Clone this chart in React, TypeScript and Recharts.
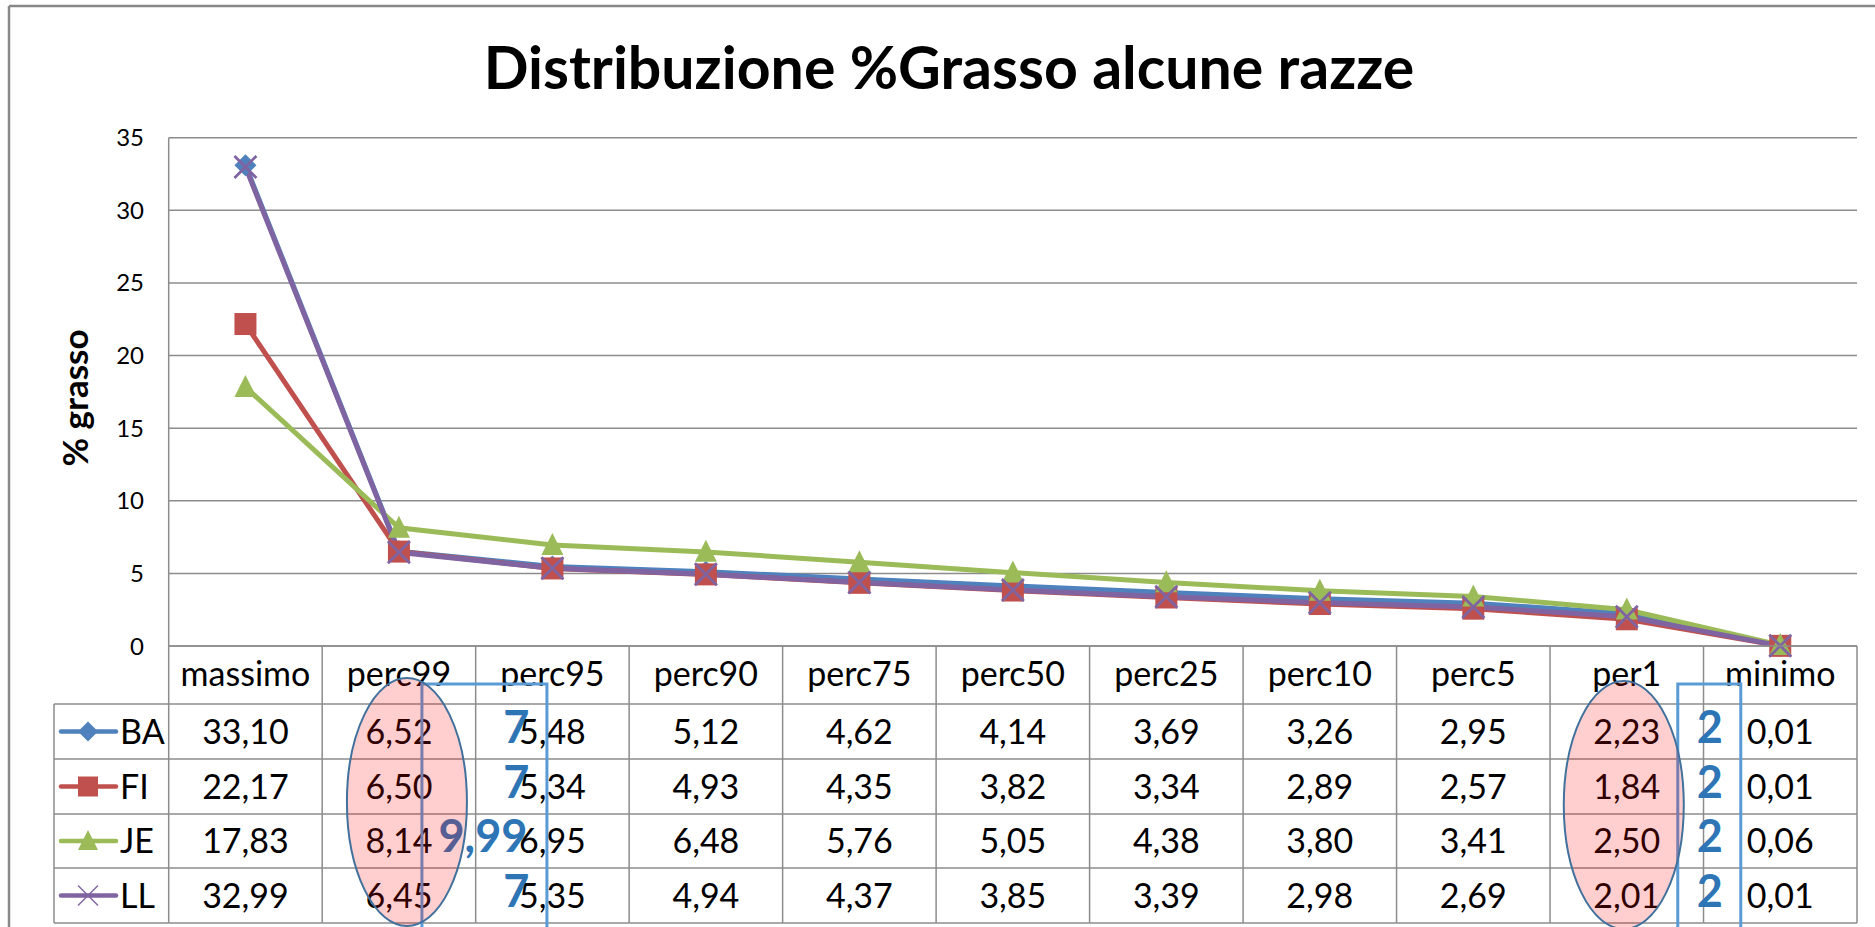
import { CartesianGrid, Line, LineChart, XAxis, YAxis } from "recharts";

const W = 1875;
const H = 927;
const FONT = "Lato, 'Open Sans', sans-serif";

const CATEGORIES = ["massimo", "perc99", "perc95", "perc90", "perc75", "perc50", "perc25", "perc10", "perc5", "per1", "minimo"];
const BA = [33.1, 6.52, 5.48, 5.12, 4.62, 4.14, 3.69, 3.26, 2.95, 2.23, 0.01];
const FI = [22.17, 6.5, 5.34, 4.93, 4.35, 3.82, 3.34, 2.89, 2.57, 1.84, 0.01];
const JE = [17.83, 8.14, 6.95, 6.48, 5.76, 5.05, 4.38, 3.8, 3.41, 2.5, 0.06];
const LL = [32.99, 6.45, 5.35, 4.94, 4.37, 3.85, 3.39, 2.98, 2.69, 2.01, 0.01];
const Y_TICKS = [0, 5, 10, 15, 20, 25, 30, 35];

// overlay notes drawn on the data table
const NOTE_99 = ["7", "7", "9,99", "7"];
const NOTE_1 = ["2", "2", "2", "2"];

const SERIES = [
  { key: "BA", values: BA, color: "#4F81BD", shape: "diamond" },
  { key: "FI", values: FI, color: "#C0504D", shape: "square" },
  { key: "JE", values: JE, color: "#9BBB59", shape: "triangle" },
  { key: "LL", values: LL, color: "#8064A2", shape: "cross" },
] as const;

const PLOT_L = 168.7;
const PLOT_R = 1857;
const PLOT_T = 137.7;
const PLOT_B = 646;
const BW = (PLOT_R - PLOT_L) / CATEGORIES.length;
const ROW_Y = [646, 704, 759, 814, 868, 923];
const GRID = "#8c8c8c";
const TABLE_FS = 34;

const data = CATEGORIES.map((c, i) => ({ cat: c, BA: BA[i], FI: FI[i], JE: JE[i], LL: LL[i] }));

const fmt = (v: number) => v.toFixed(2).replace(".", ",");
const colX = (i: number) => PLOT_L + BW * (i + 0.5);

function Marker({ shape, cx, cy, color, s, thin }: { shape: string; cx: number; cy: number; color: string; s: number; thin?: boolean }) {
  if (shape === "diamond")
    return <path d={`M${cx},${cy - s} L${cx + s},${cy} L${cx},${cy + s} L${cx - s},${cy} Z`} fill={color} />;
  if (shape === "square") return <rect x={cx - s} y={cy - s} width={s * 2} height={s * 2} fill={color} />;
  if (shape === "triangle")
    return <path d={`M${cx},${cy - s * 1.1} L${cx + s},${cy + s * 0.9} L${cx - s},${cy + s * 0.9} Z`} fill={color} />;
  return (
    <g stroke={color} strokeWidth={thin ? 1.5 : 2.8}>
      <line x1={cx - s} y1={cy - s} x2={cx + s} y2={cy + s} />
      <line x1={cx - s} y1={cy + s} x2={cx + s} y2={cy - s} />
    </g>
  );
}

function TableTick(props: any) {
  const { x, payload } = props;
  const i = CATEGORIES.indexOf(payload.value);
  const left = x - BW / 2;
  const right = x + BW / 2;
  const last = i === CATEGORIES.length - 1;
  return (
    <g fontFamily={FONT} fontSize={TABLE_FS} fill="#000">
      {ROW_Y.map((yy) => (
        <line key={yy} x1={left} x2={right} y1={yy} y2={yy} stroke={GRID} strokeWidth={1.5} />
      ))}
      <line x1={left} x2={left} y1={ROW_Y[0]} y2={ROW_Y[5]} stroke={GRID} strokeWidth={1.5} />
      {last && <line x1={right} x2={right} y1={ROW_Y[0]} y2={ROW_Y[5]} stroke={GRID} strokeWidth={1.5} />}
      <text x={x} y={686} textAnchor="middle">
        {payload.value}
      </text>
      {SERIES.map((s, r) => (
        <text key={s.key} x={x} y={(ROW_Y[r + 1] + ROW_Y[r + 2]) / 2 + 12} textAnchor="middle">
          {fmt(s.values[i])}
        </text>
      ))}
      {i === 0 && (
        <g>
          {ROW_Y.slice(1).map((yy) => (
            <line key={yy} x1={54} x2={left} y1={yy} y2={yy} stroke={GRID} strokeWidth={1.5} />
          ))}
          <line x1={54} x2={54} y1={ROW_Y[1]} y2={ROW_Y[5]} stroke={GRID} strokeWidth={1.5} />
          {SERIES.map((s, r) => {
            const cy = (ROW_Y[r + 1] + ROW_Y[r + 2]) / 2;
            return (
              <g key={s.key}>
                <line x1={61} x2={116} y1={cy} y2={cy} stroke={s.color} strokeWidth={4.5} strokeLinecap="round" />
                <Marker shape={s.shape} cx={88} cy={cy} color={s.color} s={10} thin />
                <text x={120} y={cy + 12}>
                  {s.key}
                </text>
              </g>
            );
          })}
        </g>
      )}
    </g>
  );
}

function YTick(props: any) {
  const { x, y, payload } = props;
  return (
    <text x={x} y={y + 8.5} textAnchor="end" fontFamily={FONT} fontSize={24} fill="#000">
      {payload.value}
    </text>
  );
}

export default function App() {
  const noteFont = { fontFamily: FONT, fontWeight: 700, fontSize: 45, fill: "#2E75B6" };
  return (
    <div style={{ position: "absolute", left: 0, top: 0, width: W, height: H, background: "#fff" }}>
      <LineChart
        width={W}
        height={H}
        data={data}
        margin={{ top: PLOT_T, right: W - PLOT_R, bottom: 0, left: PLOT_L - 60 }}
      >
        <CartesianGrid horizontal vertical={false} stroke={GRID} strokeWidth={1.5} />
        <XAxis
          dataKey="cat"
          interval={0}
          padding={{ left: BW / 2, right: BW / 2 }}
          height={H - PLOT_B}
          tick={TableTick}
          tickLine={false}
          axisLine={false}
          tickSize={0}
          tickMargin={0}
        />
        <YAxis
          width={60}
          domain={[0, 35]}
          ticks={Y_TICKS}
          interval={0}
          tick={YTick}
          tickLine={false}
          tickSize={0}
          tickMargin={24.7}
          axisLine={{ stroke: GRID, strokeWidth: 1.5 }}
        />
        {SERIES.map((s) => (
          <Line
            key={s.key}
            dataKey={s.key}
            stroke={s.color}
            strokeWidth={5}
            isAnimationActive={false}
            dot={(p: any) => <Marker key={p.index} shape={s.shape} cx={p.cx} cy={p.cy} color={s.color} s={11} />}
            activeDot={false}
          />
        ))}
      </LineChart>
      <svg width={W} height={H} style={{ position: "absolute", left: 0, top: 0, pointerEvents: "none" }}>
        <line x1={9} x2={9} y1={6} y2={H} stroke="#888" strokeWidth={2.5} />
        <line x1={9} x2={W} y1={6} y2={6} stroke="#888" strokeWidth={2.5} />
        <text x={949} y={89} textAnchor="middle" fontFamily={FONT} fontWeight={700} fontSize={59} fill="#000">
          Distribuzione %Grasso alcune razze
        </text>
        <text
          x={74}
          y={398}
          transform="rotate(-90 74 398)"
          textAnchor="middle"
          dominantBaseline="central"
          fontFamily={FONT}
          fontWeight={700}
          fontSize={35}
          fill="#000"
        >
          % grasso
        </text>
        <rect x={colX(1) + 23} y={684} width={125} height={300} fill="none" stroke="#5B9BD5" strokeWidth={3} />
        <rect x={colX(9) + 51} y={684} width={63} height={300} fill="none" stroke="#5B9BD5" strokeWidth={3} />
        {NOTE_99.map((t, r) => {
          const cy = (ROW_Y[r + 1] + ROW_Y[r + 2]) / 2 - 5;
          return (
            <text key={r} x={t.length > 1 ? colX(1) + 84 : colX(2) - 36} y={cy + 16} textAnchor="middle" {...noteFont}>
              {t}
            </text>
          );
        })}
        {NOTE_1.map((t, r) => {
          const cy = (ROW_Y[r + 1] + ROW_Y[r + 2]) / 2 - 5;
          return (
            <text key={r} x={colX(9) + 83} y={cy + 16} textAnchor="middle" {...noteFont}>
              {t}
            </text>
          );
        })}
        <ellipse cx={colX(1) + 8} cy={802} rx={60} ry={124} fill="rgba(255,0,0,0.19)" stroke="#41719C" strokeWidth={2} />
        <ellipse cx={colX(9) - 3} cy={805} rx={60} ry={124} fill="rgba(255,0,0,0.19)" stroke="#41719C" strokeWidth={2} />
      </svg>
    </div>
  );
}
